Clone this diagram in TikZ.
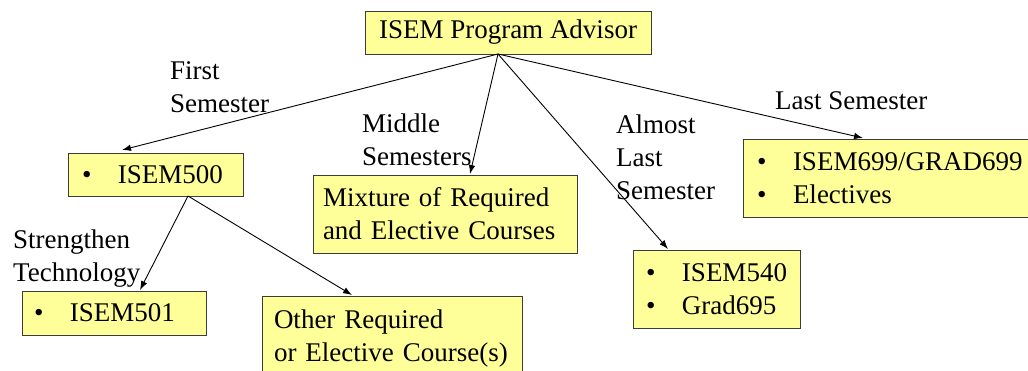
\documentclass[tikz,border=0pt]{standalone}
\usepackage{fontspec}
\setmainfont{Liberation Serif}
\usetikzlibrary{arrows.meta,calc}
\definecolor{boxfill}{RGB}{255,255,153}
\definecolor{boxline}{RGB}{60,60,60}
\newcommand{\bul}{\makebox[36pt][l]{\textbullet}}
\tikzset{
  bigfont/.style={font=\fontsize{27}{33}\selectfont},
  ybox/.style={draw=boxline, fill=boxfill, line width=1pt, bigfont, anchor=north west, inner ysep=0pt, outer sep=0pt},
  lbl/.style={bigfont, anchor=base west, inner sep=0pt},
  arr/.style={draw=black, line width=0.9pt, -{Latex[length=9pt,width=6.5pt]}}
}
\begin{document}
\begin{tikzpicture}[x=1pt,y=-1pt]
\clip (0,0) rectangle (1028,370);
\fill[white] (0,0) rectangle (1028,370);
% boxes
\node[ybox, minimum width=286pt, minimum height=43pt, align=center, inner xsep=0pt] (top) at (365,11) {ISEM Program Advisor};
\node[ybox, minimum height=43pt, text width=147pt, inner xsep=14pt, align=left] (b500) at (68,153) {\bul ISEM500};
\node[ybox, minimum height=78pt, text width=244pt, inner xsep=10pt, align=left] (mix) at (313,175) {Mixture of Required\\and Elective Courses};
\node[ybox, minimum height=78pt, text width=259pt, inner xsep=14pt, align=left] (b699) at (743,139) {\bul ISEM699/GRAD699\\\bul Electives};
\node[ybox, minimum height=78pt, text width=141pt, inner xsep=13pt, align=left] (b540) at (633,250) {\bul ISEM540\\\bul Grad695};
\node[ybox, minimum height=44pt, text width=160pt, inner xsep=12pt, align=left] (b501) at (22,291) {\bul ISEM501};
\node[ybox, minimum height=85pt, text width=236pt, inner xsep=12pt, align=left] (other) at (262,296) {Other Required\\or Elective Course(s)};
% labels
\node[lbl] (l1) at (170,79) {\vtop{\hbox{First}\hbox{Semester}}};
\node[lbl] (l2) at (362,132) {\vtop{\hbox{Middle}\hbox{Semesters}}};
\node[lbl] (l3) at (616,133) {\vtop{\hbox{Almost}\hbox{Last}\hbox{Semester}}};
\node[lbl] (l4) at (775,109) {Last Semester};
\node[lbl] (l5) at (13,248) {\vtop{\hbox{Strengthen}\hbox{Technology}}};
% connectors
\coordinate (hub) at ($(top.south)+(-10,0)$);
\coordinate (s500) at ($(b500.south west)+(120,0)$);
\draw[arr] (hub) -- ($(b500.north west)+(54,-3)$);
\draw[arr] (hub) -- ($(mix.north west)+(157,-1)$);
\draw[arr] (hub) -- ($(b540.north west)+(35,-1)$);
\draw[arr] (hub) -- ($(b699.north west)+(120,-1)$);
\draw[arr] (s500) -- ($(b501.north west)+(118,-1)$);
\draw[arr] (s500) -- ($(other.north west)+(90,-1)$);
\end{tikzpicture}
\end{document}
